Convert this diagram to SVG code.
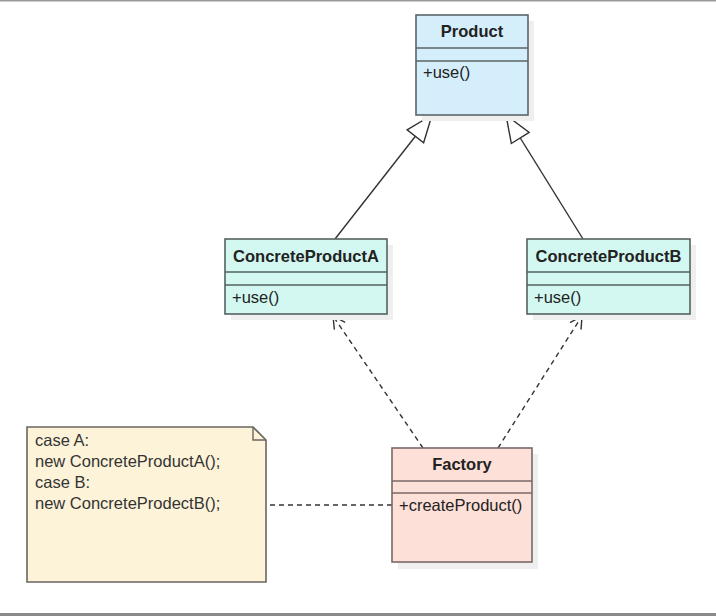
<svg xmlns="http://www.w3.org/2000/svg" width="716" height="616" viewBox="0 0 716 616">
<style>
  .box { stroke-width: 1.6; }
  .prod { fill: #d5eefb; stroke: #5a6468; }
  .conc { fill: #d3f8f1; stroke: #56625f; }
  .fact { fill: #fde0d8; stroke: #7a6868; }
  .shadow { fill: #efefef; }
  .title { font-family: "Liberation Sans", Arial, sans-serif; font-size: 16.5px; font-weight: bold; fill: #222; text-anchor: middle; }
  .op { font-family: "Liberation Sans", Arial, sans-serif; font-size: 16.5px; fill: #222; }
  .note { font-family: "Liberation Sans", Arial, sans-serif; font-size: 16.5px; fill: #333; }
  .gen { stroke: #333; stroke-width: 1.4; fill: none; }
  .dep { stroke: #333; stroke-width: 1.4; fill: none; stroke-dasharray: 5 4; }
</style>
<defs>
  <marker id="tri" markerUnits="userSpaceOnUse" viewBox="-30 -13 32 26" refX="0" refY="0" markerWidth="32" markerHeight="26" orient="auto">
    <path d="M0,0 L-27,-10.5 L-27,10.5 Z" fill="#ffffff" stroke="#333" stroke-width="1.4" stroke-linejoin="miter"/>
  </marker>
  <marker id="open" markerUnits="userSpaceOnUse" viewBox="-14 -9 16 18" refX="0" refY="0" markerWidth="16" markerHeight="18" orient="auto">
    <path d="M-12,-6.5 L0,0 L-12,6.5" fill="none" stroke="#333" stroke-width="1.4"/>
  </marker>
</defs>
<rect x="0" y="0" width="716" height="616" fill="#ffffff"/>
<rect x="0" y="0" width="716" height="1.5" fill="#9a9a9a"/>
<rect x="0" y="613" width="716" height="3" fill="#8a8a8a"/>

<g id="connectors">
  <line class="gen" x1="335" y1="239" x2="432" y2="115" marker-end="url(#tri)"/>
  <line class="gen" x1="583" y1="239" x2="506" y2="115" marker-end="url(#tri)"/>
  <line class="dep" x1="423" y1="448" x2="333" y2="316" marker-end="url(#open)"/>
  <line class="dep" x1="498" y1="448" x2="582" y2="316" marker-end="url(#open)"/>
  <line class="dep" x1="270" y1="505" x2="392" y2="505"/>
</g>

<g id="Product">
  <rect class="shadow" x="422" y="21" width="112" height="100"/>
  <rect class="box prod" x="416" y="15" width="112" height="100"/>
  <line class="box prod" x1="416" y1="48" x2="528" y2="48"/>
  <line class="box prod" x1="416" y1="61" x2="528" y2="61"/>
  <text class="title" x="472" y="37">Product</text>
  <text class="op" x="423" y="78">+use()</text>
</g>

<g id="ConcreteProductA">
  <rect class="shadow" x="231" y="245" width="162" height="75"/>
  <rect class="box conc" x="225" y="239" width="162" height="75"/>
  <line class="box conc" x1="225" y1="272" x2="387" y2="272"/>
  <line class="box conc" x1="225" y1="285" x2="387" y2="285"/>
  <text class="title" x="306" y="262">ConcreteProductA</text>
  <text class="op" x="232" y="303">+use()</text>
</g>

<g id="ConcreteProductB">
  <rect class="shadow" x="533" y="245" width="163" height="75"/>
  <rect class="box conc" x="527" y="239" width="163" height="75"/>
  <line class="box conc" x1="527" y1="272" x2="690" y2="272"/>
  <line class="box conc" x1="527" y1="285" x2="690" y2="285"/>
  <text class="title" x="608.5" y="262">ConcreteProductB</text>
  <text class="op" x="534" y="303">+use()</text>
</g>

<g id="Factory">
  <rect class="shadow" x="398" y="454" width="140" height="115"/>
  <rect class="box fact" x="392" y="448" width="140" height="114"/>
  <line class="box fact" x1="392" y1="481" x2="532" y2="481"/>
  <line class="box fact" x1="392" y1="493" x2="532" y2="493"/>
  <text class="title" x="462" y="470">Factory</text>
  <text class="op" x="399" y="511">+createProduct()</text>
</g>

<g id="Note">
  <path d="M27,427 L253,427 L266,440 L266,582 L27,582 Z" fill="#fdf3d9" stroke="#6a6660" stroke-width="1.6"/>
  <path d="M253,427 L253,440 L266,440" fill="none" stroke="#6a6660" stroke-width="1.4"/>
  <text class="note" x="35" y="446">case A:</text>
  <text class="note" x="35" y="467">new ConcreteProductA();</text>
  <text class="note" x="35" y="488">case B:</text>
  <text class="note" x="35" y="509">new ConcreteProdectB();</text>
</g>
</svg>
